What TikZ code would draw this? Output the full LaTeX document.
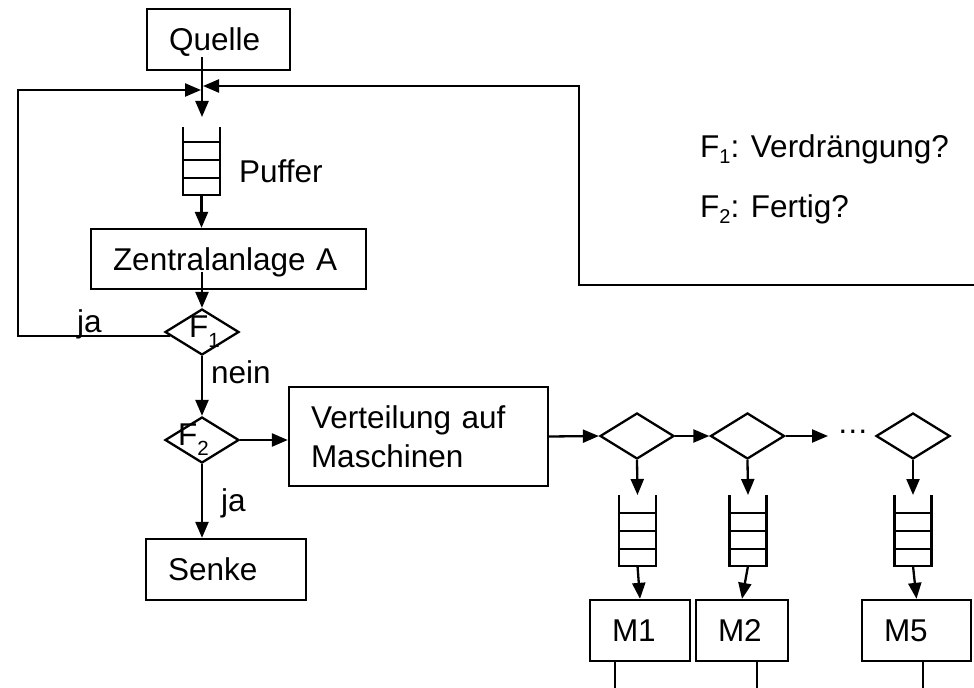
\documentclass[tikz,border=0pt]{standalone}
\usepackage{fontspec}
\setmainfont{Liberation Sans}
\usetikzlibrary{arrows.meta,shapes.geometric,calc}
\newcommand{\subd}[1]{\raisebox{-10bp}{\fontsize{20.5bp}{20bp}\selectfont #1}}
\newcommand{\subl}[1]{\raisebox{-6bp}{\fontsize{20bp}{20bp}\selectfont #1}}
\begin{document}
\begin{tikzpicture}[x=1bp,y=-1bp, line width=2.3bp,
  every node/.style={font=\fontsize{31.5bp}{39bp}\selectfont},
  box/.style={draw, rectangle, inner xsep=22bp, inner ysep=0pt, align=left, text height=22.5bp, text depth=0pt},
  dia/.style={draw, diamond, inner sep=0pt, minimum width=74bp, minimum height=46bp},
  lbl/.style={inner sep=0pt, anchor=base west},
  buf/.style={inner sep=0pt, outer sep=0pt, minimum width=37bp},
  arr/.style={-{Triangle[length=16bp,width=13bp]}},
]
\useasboundingbox (0,0) rectangle (974,688);

% boxes
\node[box, minimum width=143bp, minimum height=61bp, text width=99bp] (quelle) at (218.5,39.5) {Quelle};
\node[box, minimum width=275bp, minimum height=60bp, text width=231bp] (zentral) at (228.5,259) {Zentralanlage A};
\node[box, minimum width=259bp, minimum height=99bp, text width=215bp, text depth=39bp] (vert) at (418.5,436.5) {Verteilung auf\\Maschinen};
\node[box, minimum width=160bp, minimum height=61bp, text width=116bp] (senke) at (226,569.5) {Senke};
\node[box, minimum width=100bp, minimum height=61bp, text width=56bp] (m1) at (640,630.5) {M1};
\node[box, minimum width=92bp, minimum height=61bp, text width=48bp] (m2) at (742,630.5) {M2};
\node[box, minimum width=109bp, minimum height=61bp, text width=65bp] (m5) at (916.5,630.5) {M5};

% diamonds
\node[dia] (f1) at (202,332) {};
\node[dia] (f2) at (202,440) {};
\node[dia] (d1) at (637,436) {};
\node[dia] (d2) at (747.5,436) {};
\node[dia] (d3) at (913,436) {};

% labels
\node[lbl] (f1t) at (188,337) {F\subd{1}};
\node[lbl] (f2t) at (177,445) {F\subd{2}};
\node[lbl] (puft) at (238,183) {Puffer};
\node[lbl] (jat1) at (76,332) {ja};
\node[lbl] (neint) at (210,383) {nein};
\node[lbl] (jat2) at (220,511) {ja};
\node[lbl] (dots) at (836,433) {…};
\node[lbl] (leg1) at (699,158) {F\subl{1}: Verdrängung?};
\node[lbl] (leg2) at (699,217) {F\subl{2}: Fertig?};

% buffers
\node[buf, minimum height=68bp] (puf) at (201.5,161) {};
\node[buf, minimum height=71bp] (b1) at (637.5,530.5) {};
\node[buf, minimum height=71bp] (b2) at (748,530.5) {};
\node[buf, minimum height=71bp] (b3) at (913,530.5) {};
\foreach \b in {puf,b1,b2,b3} {
  \draw (\b.north west) -- (\b.south west) -- (\b.south east) -- (\b.north east);
  \foreach \d in {17,35,53}
    \draw ($(\b.south west)+(0,-\d)$) -- ($(\b.south east)+(0,-\d)$);
}

% coordinates
\coordinate (J) at (202,90);
\coordinate (lc) at (18,90);
\coordinate (rup) at (579,86);
\coordinate (rin) at (974,285);
\coordinate (o1) at (615,688);
\coordinate (o2) at (757,688);
\coordinate (o5) at (923,688);

% connectors
\draw ($(J |- quelle.south)+(0,-14)$) -- (J);
\draw[arr, shorten >=10bp] (J) -- (J |- puf.north);
\draw[arr, shorten >=1bp] ($(f1.west)+(6,4)$) -| (lc) -- (J);
\draw[arr, shorten >=1bp] (rin) -| (rup) -- (rup -| J);
\draw[arr] (puf.south) -- (puf.south |- zentral.north);
\draw[arr] ($(f1.north |- zentral.south)+(0,-18)$) -- (f1.north);
\draw[arr] (f1.south) -- (f2.north);
\draw[arr] (f2.south) -- (f2.south |- senke.north);
\draw[arr] (f2.east) -- (f2.east -| vert.west);
\draw[arr] (vert.east) -- (d1.west);
\draw[arr] (d1.east) -- (d2.west);
\draw[arr, shorten >=8bp] (d2.east) -- (d2.east -| dots.west);
\draw[arr] (d1.south) -- (b1.north);
\draw[arr] (d2.south) -- (b2.north);
\draw[arr] (d3.south) -- (b3.north);
\draw[arr] (b1.south) -- (m1.north);
\draw[arr] (b2.south) -- (m2.north);
\draw[arr] (b3.south) -- (m5.north);
\draw (o1 |- m1.south) -- (o1);
\draw (o2 |- m2.south) -- (o2);
\draw (o5 |- m5.south) -- (o5);
\end{tikzpicture}
\end{document}
